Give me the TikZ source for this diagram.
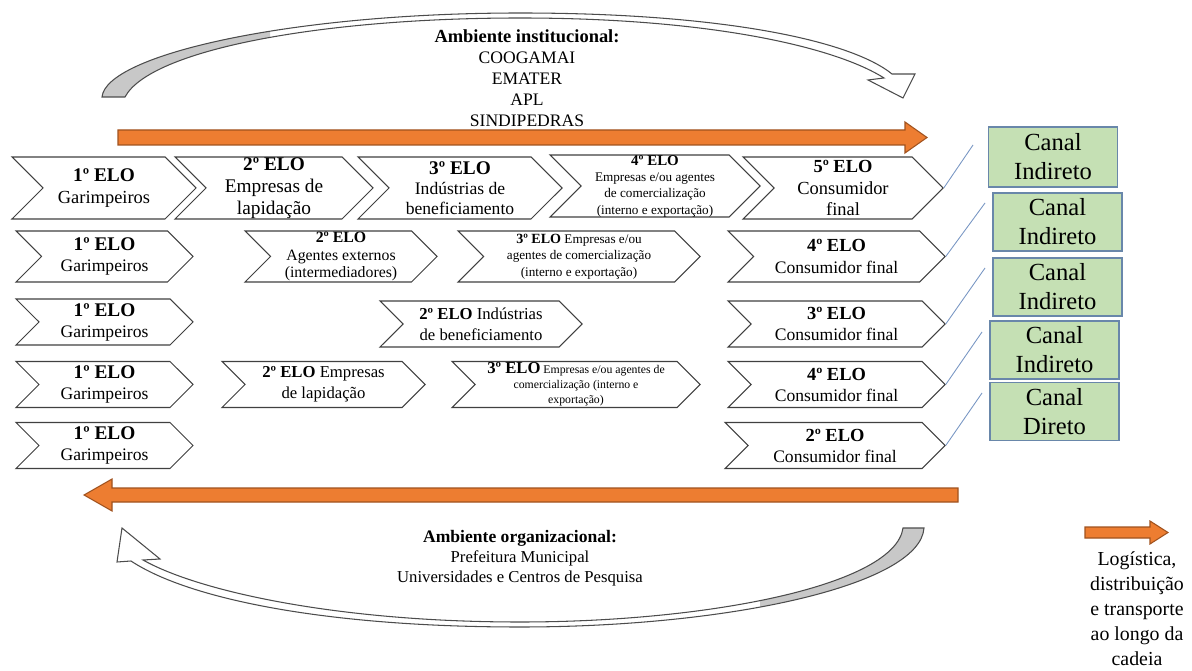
\documentclass[tikz,border=0pt]{standalone}
\usepackage{fontspec}
\setmainfont{Liberation Serif}
\usetikzlibrary{shapes.symbols}
\definecolor{laranja}{RGB}{237,125,49}
\definecolor{laranjaesc}{RGB}{160,82,30}
\definecolor{verdecanal}{RGB}{197,224,180}
\definecolor{azulcanal}{RGB}{105,135,170}
\definecolor{azullinha}{RGB}{120,150,195}
\definecolor{cinzafaixa}{RGB}{200,200,200}
\newcommand{\pxu}{0.02cm}
% faixas curvas (coordenadas em pixels)
\newcommand{\faixasup}{(102,97) .. controls (106,55) and (290,13) .. (520,13) .. controls (720,13) and (850,40) .. (892,74) -- (915,74) -- (903,98) -- (868,80) -- (884,78) .. controls (835,47) and (710,18) .. (520,18) .. controls (320,18) and (150,50) .. (125,97) -- cycle}
\newcommand{\faixainf}{(924,528) .. controls (920,585) and (730,627) .. (520,627) .. controls (330,627) and (190,600) .. (131,561) -- (117,562) -- (122,528) -- (160,559) -- (143,560) .. controls (200,592) and (340,622) .. (520,622) .. controls (710,622) and (895,585) .. (903,528) -- cycle}
\tikzset{
  elo/.style={signal, signal to=east, signal from=west, signal pointer angle=90,
    draw=black!75, line width=0.6pt, fill=white, inner sep=0pt, align=center},
  canal/.style={draw=azulcanal, line width=0.8pt, fill=verdecanal, align=center,
    minimum width=129*\pxu, minimum height=58*\pxu, font=\fontsize{14}{16.5}\selectfont},
  ligacao/.style={draw=azullinha, line width=0.5pt},
  seta/.style={fill=laranja, draw=laranjaesc, line width=0.6pt},
  faixa/.style={draw=black!70, line width=0.6pt}
}

\begin{document}
\begin{tikzpicture}[x=0.02cm, y=-0.02cm]
\useasboundingbox (0,0) rectangle (1192,671);

% ambiente institucional
\fill[white] \faixasup;
\begin{scope}
\clip (0,0) rectangle (270,110);
\fill[cinzafaixa] \faixasup;
\end{scope}
\draw[faixa] \faixasup;
\node[align=center, font=\fontsize{10}{11.9}\selectfont] (inst) at (527,78)
  {{\fontsize{10.5}{11.9}\selectfont\bfseries Ambiente institucional:}\\COOGAMAI\\EMATER\\APL\\SINDIPEDRAS};
\filldraw[seta] (118,130) -- (905,130) -- (905,122) -- (927,137.5) -- (905,153) -- (905,145) -- (118,145) -- cycle;

% 1a linha
\node[elo, minimum width=184*\pxu, minimum height=62*\pxu, font=\fontsize{10.5}{13}\selectfont] (e11) at (104,188)
  {{\fontsize{11}{13}\selectfont\bfseries 1º ELO}\\Garimpeiros};
\node[elo, minimum width=198*\pxu, minimum height=62*\pxu, font=\fontsize{11}{12.5}\selectfont] (e12) at (274,188)
  {{\bfseries 2º ELO}\\Empresas de\\lapidação};
\node[elo, minimum width=204*\pxu, minimum height=62*\pxu, font=\fontsize{10}{11.5}\selectfont] (e13) at (460,188)
  {{\fontsize{11}{11.5}\selectfont\bfseries 3º ELO}\\Indústrias de\\beneficiamento};
\node[elo, minimum width=210*\pxu, minimum height=62*\pxu, font=\fontsize{7.5}{9.3}\selectfont] (e14) at (655,186)
  {{\fontsize{8.5}{9.3}\selectfont\bfseries 4º ELO}\\Empresas e/ou agentes\\de comercialização\\(interno e exportação)};
\node[elo, minimum width=200*\pxu, minimum height=62*\pxu, font=\fontsize{10.5}{12}\selectfont] (e15) at (843,188)
  {{\bfseries 5º ELO}\\Consumidor\\final};

% 2a linha
\node[elo, minimum width=177*\pxu, minimum height=51*\pxu, font=\fontsize{10}{12}\selectfont] (e21) at (104.5,256.5)
  {{\fontsize{11}{12}\selectfont\bfseries 1º ELO}\\Garimpeiros};
\node[elo, minimum width=192*\pxu, minimum height=51*\pxu, font=\fontsize{9}{10}\selectfont] (e22) at (341,256.5)
  {{\bfseries 2º ELO}\\Agentes externos\\(intermediadores)};
\node[elo, minimum width=242*\pxu, minimum height=51*\pxu, font=\fontsize{7.5}{9.3}\selectfont] (e23) at (579,256.5)
  {{\fontsize{8}{9.3}\selectfont\bfseries 3º ELO} Empresas e/ou\\agentes de comercialização\\(interno e exportação)};
\node[elo, minimum width=217*\pxu, minimum height=51*\pxu, font=\fontsize{10}{12}\selectfont] (e24) at (836.5,256.5)
  {{\fontsize{10.5}{12}\selectfont\bfseries 4º ELO}\\Consumidor final};

% 3a linha
\node[elo, minimum width=177*\pxu, minimum height=46*\pxu, font=\fontsize{10}{12}\selectfont] (e31) at (104.5,322)
  {{\fontsize{11}{12}\selectfont\bfseries 1º ELO}\\Garimpeiros};
\node[elo, minimum width=202*\pxu, minimum height=46*\pxu, font=\fontsize{9.5}{12}\selectfont] (e32) at (481,324)
  {{\bfseries 2º ELO} Indústrias\\de beneficiamento};
\node[elo, minimum width=217*\pxu, minimum height=46*\pxu, font=\fontsize{10}{12}\selectfont] (e33) at (836.5,324)
  {{\fontsize{10.5}{12}\selectfont\bfseries 3º ELO}\\Consumidor final};

% 4a linha
\node[elo, minimum width=177*\pxu, minimum height=46*\pxu, font=\fontsize{10}{12}\selectfont] (e41) at (104.5,384.5)
  {{\fontsize{11}{12}\selectfont\bfseries 1º ELO}\\Garimpeiros};
\node[elo, minimum width=203*\pxu, minimum height=46*\pxu, font=\fontsize{9.5}{12}\selectfont] (e42) at (323.5,384.5)
  {{\bfseries 2º ELO} Empresas\\de lapidação};
\node[elo, minimum width=248*\pxu, minimum height=46*\pxu, font=\fontsize{6.7}{8.5}\selectfont] (e43) at (576,384.5)
  {{\fontsize{9.5}{8.5}\selectfont\bfseries 3º ELO} Empresas e/ou agentes de\\comercialização (interno e\\exportação)};
\node[elo, minimum width=217*\pxu, minimum height=46*\pxu, font=\fontsize{10}{12}\selectfont] (e44) at (836.5,384.5)
  {{\fontsize{10.5}{12}\selectfont\bfseries 4º ELO}\\Consumidor final};

% 5a linha
\node[elo, minimum width=177*\pxu, minimum height=46*\pxu, font=\fontsize{10}{12}\selectfont] (e51) at (104.5,445.5)
  {{\fontsize{11}{12}\selectfont\bfseries 1º ELO}\\Garimpeiros};
\node[elo, minimum width=220*\pxu, minimum height=46*\pxu, font=\fontsize{10}{12}\selectfont] (e52) at (835,445.5)
  {{\fontsize{10.5}{12}\selectfont\bfseries 2º ELO}\\Consumidor final};

% canais
\node[canal, minimum height=60*\pxu] (k1) at (1053,157) {Canal\\Indireto};
\node[canal] (k2) at (1057.5,222) {Canal\\Indireto};
\node[canal] (k3) at (1057.5,287) {Canal\\Indireto};
\node[canal] (k4) at (1054.5,350) {Canal\\Indireto};
\node[canal] (k5) at (1054.5,411.5) {Canal\\Direto};
\coordinate (t1) at (973,145);
\coordinate (t2) at (985,203);
\coordinate (t3) at (985,268);
\coordinate (t4) at (982,332);
\coordinate (t5) at (982,393);
\draw[ligacao] (e15.east) -- (t1);
\draw[ligacao] (e24.east) -- (t2);
\draw[ligacao] (e33.east) -- (t3);
\draw[ligacao] (e44.east) -- (t4);
\draw[ligacao] (e52.east) -- (t5);

% ambiente organizacional
\filldraw[seta] (958,488) -- (112,488) -- (112,479) -- (84,495) -- (112,511) -- (112,502) -- (958,502) -- cycle;
\fill[white] \faixainf;
\begin{scope}
\clip (760,500) rectangle (940,640);
\fill[cinzafaixa] \faixainf;
\end{scope}
\draw[faixa] \faixainf;
\node[align=center, font=\fontsize{9.5}{11.3}\selectfont] (org) at (520,558)
  {{\fontsize{10}{11.3}\selectfont\bfseries Ambiente organizacional:}\\Prefeitura Municipal\\Universidades e Centros de Pesquisa};

% legenda
\filldraw[seta] (1085,527) -- (1150,527) -- (1150,521) -- (1168,532.5) -- (1150,544) -- (1150,538) -- (1085,538) -- cycle;
\node[align=center, font=\fontsize{11.3}{14.2}\selectfont] (leg) at (1137,609)
  {Logística,\\distribuição\\e transporte\\ao longo da\\cadeia};
\end{tikzpicture}
\end{document}
